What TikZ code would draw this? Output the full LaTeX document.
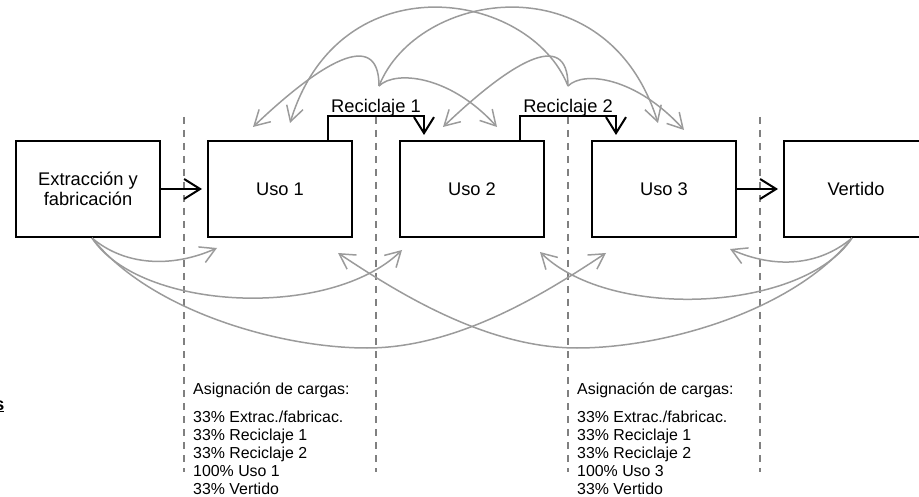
\documentclass[tikz,border=0pt]{standalone}
\usepackage{fontspec}
\setmainfont{Liberation Sans}
\usetikzlibrary{arrows.meta}
\definecolor{arcgray}{RGB}{155,155,155}
\definecolor{dashgray}{RGB}{128,128,128}
\begin{document}
\begin{tikzpicture}[x=1pt,y=-1pt,
  box/.style={draw,line width=2pt,minimum width=144pt,minimum height=96pt,inner sep=0pt,align=center,font=\fontsize{18.3}{20}\selectfont},
  blk/.style={line width=2pt,-{Straight Barb[length=16pt,width=20pt]},shorten >=5pt},
  garc/.style={draw=arcgray,line width=1.5pt,-{Straight Barb[length=15pt,width=17pt]}},
  sep/.style={draw=dashgray,line width=1.5pt,dash pattern=on 7pt off 6pt},
  lbl/.style={font=\fontsize{18.3}{20}\selectfont,inner sep=0pt,anchor=base},
  note/.style={font=\fontsize{15.9}{18}\selectfont,inner sep=0pt,anchor=base west}]
\clip (0,0) rectangle (919,497);
% separators
\foreach \x/\n in {184/da,376/db,568/dc,760/dd}{
  \coordinate (\n t) at (\x,117);
  \coordinate (\n b) at (\x,472);
  \draw[sep] (\n t) -- (\n b);
}
% boxes
\node[box] (ext) at (88,189) {Extracción y\\fabricación};
\node[box] (u1) at (280,189) {Uso 1};
\node[box] (u2) at (472,189) {Uso 2};
\node[box] (u3) at (664,189) {Uso 3};
\node[box] (ver) at (856,189) {Vertido};
% black flow arrows
\draw[blk] (ext.east) -- (u1.west);
\draw[blk] (u3.east) -- (ver.west);
\draw[blk] ([xshift=48pt]u1.north) -- ++(0,-24) -| ([xshift=-48pt]u2.north);
\draw[blk] ([xshift=48pt]u2.north) -- ++(0,-24) -| ([xshift=-48pt]u3.north);
\node[lbl] (rc1) at (376,113) {Reciclaje 1};
\node[lbl] (rc2) at (568,113) {Reciclaje 2};
% top allocation arcs
\coordinate (r1) at (379,86);
\coordinate (r2) at (568,86);
\coordinate (t1a) at (253,127);
\coordinate (t1b) at (290,123);
\coordinate (t2a) at (443,127);
\coordinate (t2b) at (497,127);
\coordinate (t3a) at (658,123);
\coordinate (t3b) at (684,130);
\draw[garc] (r1) .. controls +(0,-60) and +(65,-62) .. (t1a);
\draw[garc] (r2) .. controls +(-38,-96) and +(50,-163) .. (t1b);
\draw[garc] (r1) .. controls +(38,-96) and +(-51,-163) .. (t3a);
\draw[garc] (r1) .. controls +(16,-16) and +(-47,-52) .. (t2b);
\draw[garc] (r2) .. controls +(0,-60) and +(65,-62) .. (t2a);
\draw[garc] (r2) .. controls +(16,-16) and +(-47,-52) .. (t3b);
% bottom allocation arcs
\coordinate (e) at ([xshift=4pt]ext.south);
\coordinate (v) at ([xshift=-4pt]ver.south);
\coordinate (b1) at (217,248);
\coordinate (b2) at (402,250);
\coordinate (b3) at (606,253);
\coordinate (b4) at (338,253);
\coordinate (b5) at (540,252);
\coordinate (b6) at (730,249);
\coordinate (m1) at (367,348);
\coordinate (m2) at (577,348);
\draw[garc] (e) .. controls +(33,28) and +(-45,20) .. (b1);
\draw[garc] (e) .. controls +(48,73) and +(-72,70) .. (b2);
\draw[garc] (e) .. controls +(58,73) and +(-87,0) .. (m1) .. controls +(93,0) and +(-56,37) .. (b3);
\draw[garc] (v) .. controls +(-33,28) and +(45,20) .. (b6);
\draw[garc] (v) .. controls +(-48,73) and +(72,70) .. (b5);
\draw[garc] (v) .. controls +(-58,73) and +(87,0) .. (m2) .. controls +(-93,0) and +(56,37) .. (b4);
% allocation notes
\node[note] (ha) at (193,394) {Asignación de cargas:};
\node[note] (na1) at (193,422) {33\% Extrac./fabricac.};
\node[note] (na2) at (193,440) {33\% Reciclaje 1};
\node[note] (na3) at (193,458) {33\% Reciclaje 2};
\node[note] (na4) at (193,476) {100\% Uso 1};
\node[note] (na5) at (193,494) {33\% Vertido};
\node[note] (hb) at (577,394) {Asignación de cargas:};
\node[note] (nb1) at (577,422) {33\% Extrac./fabricac.};
\node[note] (nb2) at (577,440) {33\% Reciclaje 1};
\node[note] (nb3) at (577,458) {33\% Reciclaje 2};
\node[note] (nb4) at (577,476) {100\% Uso 3};
\node[note] (nb5) at (577,494) {33\% Vertido};
% clipped fragment at left edge
\node[font=\fontsize{18}{20}\selectfont\bfseries,inner sep=0pt,anchor=base east] (cut) at (4.5,410) {\underline{s}};
\end{tikzpicture}
\end{document}
